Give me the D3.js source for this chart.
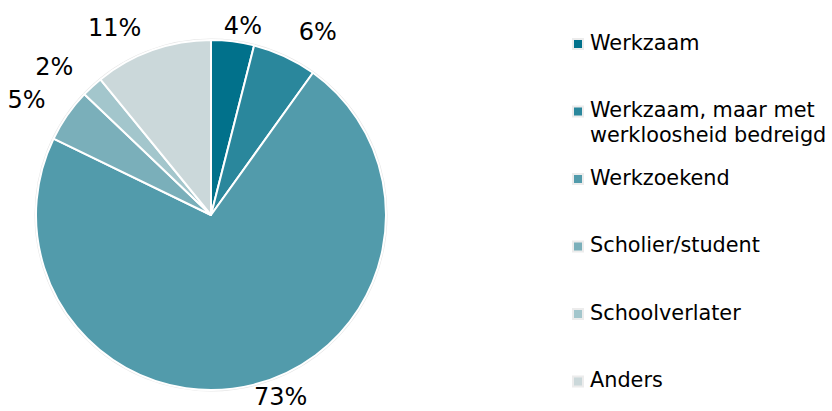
<!DOCTYPE html>
<html>
<head>
<meta charset="utf-8">
<script src="https://cdn.jsdelivr.net/npm/d3@7"></script>
<style>
  html, body { margin: 0; padding: 0; background: #fff; }
  svg { display: block; font-family: 'DejaVu Sans', Verdana, sans-serif; }
</style>
</head>
<body>
<div id="chart"></div>
<script>
// Share per status (labels are the rounded percentages shown on the chart)
const categories = [
  'Werkzaam',
  'Werkzaam, maar met\nwerkloosheid bedreigd',
  'Werkzoekend',
  'Scholier/student',
  'Schoolverlater',
  'Anders',
];
const values = [4, 6, 73, 5, 2, 11];
const colors = ['#01718b', '#2a879c', '#529bab', '#7aafba', '#a3c6cc', '#cbd8da'];

const width = 832;
const height = 411;
const cx = 211;
const cy = 215;
const radius = 175;
const legendFont = 20.8;
const labelFont = 24;

const svg = d3.select('#chart')
  .append('svg')
  .attr('width', width)
  .attr('height', height);

const pie = d3.pie().sort(null).value((d) => d);
const arcs = pie(values);
const arc = d3.arc().innerRadius(0).outerRadius(radius);

const g = svg.append('g').attr('transform', `translate(${cx},${cy})`);

// faint outer ring
g.append('circle')
  .attr('r', radius + 0.5)
  .attr('fill', 'none')
  .attr('stroke', '#e6e6e6')
  .attr('stroke-width', 2);

g.selectAll('path.slice')
  .data(arcs)
  .enter()
  .append('path')
  .attr('class', 'slice')
  .attr('d', arc)
  .attr('fill', (_, i) => colors[i])
  .attr('stroke', '#fff')
  .attr('stroke-width', 2)
  .attr('stroke-linejoin', 'round');

// Outside-end data labels, pushed sideways away from the vertical axis
const clamp = (v, lo, hi) => Math.max(lo, Math.min(hi, v));
const labels = g.selectAll('text.label')
  .data(arcs)
  .enter()
  .append('text')
  .attr('class', 'label')
  .attr('font-size', labelFont)
  .attr('fill', '#000')
  .attr('text-anchor', 'middle')
  .text((d) => `${d.data}%`);

labels.each(function (d) {
  const w = this.getBBox().width;
  const a = (d.startAngle + d.endAngle) / 2;
  const s = Math.sin(a);
  const c = Math.cos(a);
  const r0 = radius + 7 + 12 * clamp((Math.abs(s) - 0.2) * 5, 0, 1);
  const push = Math.min(1, Math.abs(s) * 3);
  const dx = Math.sign(s) * (w / 2 + 6) * push;
  const dy = c > 0 ? -c * 9 : -c * 2;
  const x = r0 * s + dx;
  const y = -r0 * c + dy;
  // y is the glyph middle; shift to baseline
  d3.select(this).attr('x', x).attr('y', y + labelFont * 0.365);
});

// Legend
const legendY = d3.scalePoint()
  .domain(categories)
  .range([49.5, 387]);

const legend = svg.append('g').attr('class', 'legend');
const items = legend.selectAll('g')
  .data(categories)
  .enter()
  .append('g')
  .attr('transform', (d) => `translate(0,${legendY(d)})`);

items.append('rect')
  .attr('x', 573)
  .attr('y', -10.5)
  .attr('width', 10)
  .attr('height', 10)
  .attr('fill', (_, i) => colors[i])
  .attr('stroke', '#ececec')
  .attr('stroke-width', 2);

items.append('text')
  .attr('font-size', legendFont)
  .attr('fill', '#000')
  .selectAll('tspan')
  .data((d) => d.split('\n'))
  .enter()
  .append('tspan')
  .attr('x', 590)
  .attr('dy', (_, i) => (i === 0 ? 0 : 25))
  .text((d) => d);
</script>
</body>
</html>
